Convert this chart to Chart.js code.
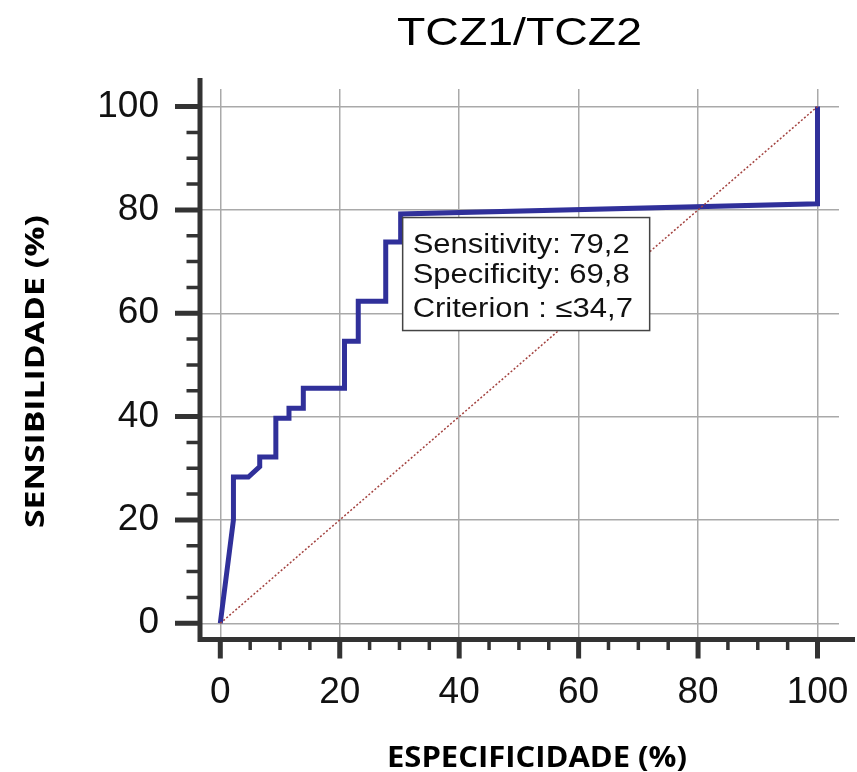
<!DOCTYPE html>
<html lang="pt">
<head>
<meta charset="UTF-8">
<title>TCZ1/TCZ2</title>
<script src="https://cdn.jsdelivr.net/npm/chart.js"></script>
<style>
  html, body { margin: 0; padding: 0; background: #fff; }
</style>
</head>
<body>
<canvas id="roc" width="857" height="772"></canvas>
<script>
// ROC curve
const rocX = [0, 2.2, 2.2, 4.7, 6.6, 6.6, 9.3, 9.3, 11.5, 11.5, 13.9, 13.9, 20.8, 20.8, 23.1, 23.1, 27.7, 27.7, 30.2, 30.2, 100, 100];
const rocY = [0, 20, 28.3, 28.3, 30.3, 32.2, 32.2, 39.7, 39.7, 41.6, 41.6, 45.5, 45.5, 54.6, 54.6, 62.3, 62.3, 73.8, 73.8, 79.2, 81.2, 100];
// reference diagonal
const diagX = [0, 100];
const diagY = [0, 100];

const majorTicks = [0, 20, 40, 60, 80, 100];
const minorTicks = [5, 10, 15, 25, 30, 35, 45, 50, 55, 65, 70, 75, 85, 90, 95];

const chartTitle = 'TCZ1/TCZ2';
const xTitle = 'ESPECIFICIDADE (%)';
const yTitle = 'SENSIBILIDADE (%)';

// optimal cut point box
const cutPoint = [30.2, 79.2];
const boxLines = ['Sensitivity: 79,2', 'Specificity: 69,8', 'Criterion : \u226434,7'];

const toPoints = (xs, ys) => xs.map((v, i) => ({ x: v, y: ys[i] }));

// draw text squeezed/stretched to a given width
function fitText(ctx, text, x, y, width) {
  const w = ctx.measureText(text).width;
  ctx.save();
  ctx.translate(x, y);
  ctx.scale(width / w, 1);
  ctx.fillText(text, 0, 0);
  ctx.restore();
}

const extras = {
  id: 'extras',
  afterDraw(chart) {
    const { ctx, chartArea: a, scales: { x, y } } = chart;
    ctx.save();

    // axis lines
    ctx.strokeStyle = '#333';
    ctx.lineWidth = 5;
    ctx.beginPath();
    ctx.moveTo(a.left, a.top - 11);
    ctx.lineTo(a.left, a.bottom + 2.5);
    ctx.moveTo(a.left - 2.5, a.bottom);
    ctx.lineTo(a.right + 16, a.bottom);
    ctx.stroke();

    // major ticks
    ctx.beginPath();
    majorTicks.forEach(v => {
      const py = y.getPixelForValue(v);
      ctx.moveTo(a.left, py);
      ctx.lineTo(a.left - 25, py);
      const px = x.getPixelForValue(v);
      ctx.moveTo(px, a.bottom);
      ctx.lineTo(px, a.bottom + 19);
    });
    ctx.stroke();

    // minor ticks
    ctx.lineWidth = 3.5;
    ctx.beginPath();
    minorTicks.forEach(v => {
      const py = y.getPixelForValue(v);
      ctx.moveTo(a.left, py);
      ctx.lineTo(a.left - 13.5, py);
      const px = x.getPixelForValue(v);
      ctx.moveTo(px, a.bottom);
      ctx.lineTo(px, a.bottom + 10.5);
    });
    ctx.stroke();

    // cut point box
    const bx = x.getPixelForValue(cutPoint[0]) + 2;
    const by = y.getPixelForValue(cutPoint[1]) + 3.5;
    ctx.fillStyle = '#fff';
    ctx.fillRect(bx, by, 247, 113);
    ctx.strokeStyle = '#444';
    ctx.lineWidth = 1.5;
    ctx.strokeRect(bx, by, 247, 113);
    ctx.fillStyle = '#111';
    ctx.font = '27px "Liberation Sans", Arial, sans-serif';
    ctx.textAlign = 'left';
    ctx.textBaseline = 'alphabetic';
    const sx = 217 / ctx.measureText(boxLines[0]).width;
    const offs = [35, 65.5, 99];
    boxLines.forEach((t, i) => {
      ctx.save();
      ctx.translate(bx + 10, by + offs[i]);
      ctx.scale(sx, 1);
      ctx.fillText(t, 0, 0);
      ctx.restore();
    });

    // titles
    ctx.fillStyle = '#000';
    ctx.textAlign = 'left';
    ctx.font = '39px "Liberation Sans", Arial, sans-serif';
    fitText(ctx, chartTitle, 397, 45, 245);

    ctx.font = 'bold 29px "Open Sans", sans-serif';
    fitText(ctx, xTitle, 387, 766.5, 300);

    ctx.save();
    ctx.translate(43.5, 528);
    ctx.rotate(-Math.PI / 2);
    ctx.font = 'bold 26px "Open Sans", sans-serif';
    fitText(ctx, yTitle, 0, 0, 313);
    ctx.restore();

    ctx.restore();
  }
};

const tickFont = { family: '"Liberation Sans", Arial, sans-serif', size: 37 };

new Chart(document.getElementById('roc'), {
  type: 'line',
  data: {
    datasets: [
      {
        data: toPoints(diagX, diagY),
        borderColor: '#a3423f',
        borderWidth: 1.5,
        borderDash: [2, 2],
        pointRadius: 0
      },
      {
        data: toPoints(rocX, rocY),
        borderColor: '#30309a',
        borderWidth: 5,
        pointRadius: 0,
        tension: 0
      }
    ]
  },
  options: {
    responsive: false,
    animation: false,
    layout: { autoPadding: false, padding: { top: 89, right: 18, left: 0, bottom: 0 } },
    plugins: { legend: { display: false }, tooltip: { enabled: false } },
    scales: {
      x: {
        type: 'linear',
        min: -3.4,
        max: 103.6,
        afterBuildTicks: s => { s.ticks = majorTicks.map(v => ({ value: v })); },
        afterFit: s => { s.height = 132.5; },
        border: { display: false },
        // tick marks are drawn by the plugin, this only pushes the labels down
        grid: { color: '#a9a9a9', lineWidth: 1.5, drawTicks: true, tickLength: 31, tickColor: 'rgba(0,0,0,0)' },
        ticks: { font: tickFont, color: '#111', padding: 0, maxRotation: 0, autoSkip: false }
      },
      y: {
        type: 'linear',
        min: -3.14,
        max: 103.4,
        afterBuildTicks: s => { s.ticks = majorTicks.map(v => ({ value: v })); },
        afterFit: s => { s.width = 200; },
        border: { display: false },
        grid: { color: '#a9a9a9', lineWidth: 1.5, drawTicks: false },
        ticks: { font: tickFont, color: '#111', padding: 41, autoSkip: false }
      }
    }
  },
  plugins: [extras]
});
</script>
</body>
</html>
